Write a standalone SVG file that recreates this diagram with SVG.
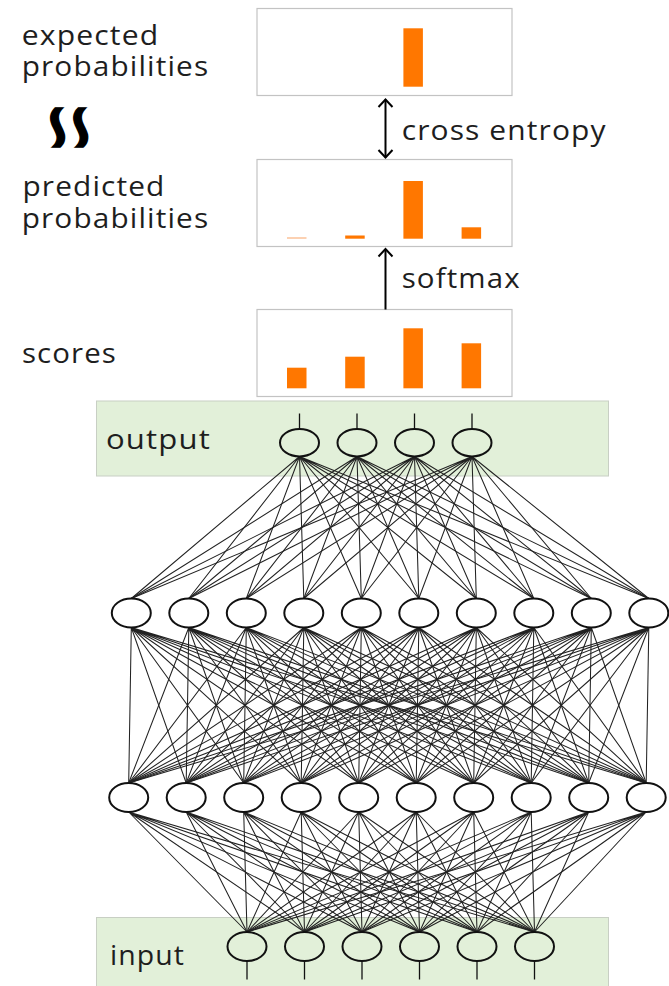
<svg xmlns="http://www.w3.org/2000/svg" width="669" height="986" viewBox="0 0 669 986">
<style>
.box{fill:#fff;stroke:#c3c3c3;stroke-width:1.2}
.bar{fill:#ff7700}
.lbl{font-family:'Open Sans','Noto Sans','DejaVu Sans',sans-serif;font-size:26.5px;letter-spacing:1px;fill:#1e1e1e}
.band{fill:#e2f0d9;stroke:#c8cfc4;stroke-width:1}
.node{fill:none;stroke:#111;stroke-width:2}
.tick{stroke:#111;stroke-width:1.3}
.conn{stroke:#222;stroke-width:1.05;fill:none}
.arr{stroke:#000;stroke-width:2;fill:none}
</style>
<rect width="669" height="986" fill="#fff"/>

<g id="expected">
<text class="lbl" x="21.7" y="45" textLength="137.6" lengthAdjust="spacingAndGlyphs">expected</text>
<text class="lbl" x="21.7" y="76" textLength="187.6" lengthAdjust="spacingAndGlyphs">probabilities</text>
<rect class="box" x="257" y="8.5" width="255" height="87"/>
<rect class="bar" x="403.4" y="28.3" width="19.5" height="58.4"/>
</g>

<g id="approx">
<text transform="matrix(0 1 1.4 0 69.5 127.5)" x="0" y="26" text-anchor="middle" font-family="'Liberation Sans',sans-serif" font-size="80" fill="#000" stroke="#000" stroke-width="1">≈</text>
</g>

<g id="predicted">
<text class="lbl" x="22.5" y="196" textLength="143" lengthAdjust="spacingAndGlyphs">predicted</text>
<text class="lbl" x="21.7" y="228.3" textLength="187.6" lengthAdjust="spacingAndGlyphs">probabilities</text>
<rect class="box" x="257" y="159.5" width="255" height="87"/>
<rect x="287" y="237.2" width="19.5" height="1.6" fill="#fcc6a0"/>
<rect class="bar" x="345.2" y="235.5" width="19.5" height="3.2"/>
<rect class="bar" x="403.4" y="181" width="19.5" height="57.7"/>
<rect class="bar" x="461.6" y="227.3" width="19.5" height="11.4"/>
</g>

<g id="scores">
<text class="lbl" x="22" y="363" textLength="95" lengthAdjust="spacingAndGlyphs">scores</text>
<rect class="box" x="257" y="309.5" width="255" height="87"/>
<rect class="bar" x="287" y="367.7" width="19.5" height="20.6"/>
<rect class="bar" x="345.2" y="356.7" width="19.5" height="31.6"/>
<rect class="bar" x="403.4" y="328.3" width="19.5" height="60"/>
<rect class="bar" x="461.6" y="343.3" width="19.5" height="45"/>
</g>

<g id="arrows">
<line class="arr" x1="385.5" y1="99.5" x2="385.5" y2="157.5"/>
<polyline class="arr" points="378.5,107 385.5,99.5 392.5,107"/>
<polyline class="arr" points="378.5,150 385.5,157.5 392.5,150"/>
<text class="lbl" x="401.7" y="139.5" textLength="205" lengthAdjust="spacingAndGlyphs">cross entropy</text>
<line class="arr" x1="385.5" y1="249" x2="385.5" y2="309.5"/>
<polyline class="arr" points="378.5,256.5 385.5,249 392.5,256.5"/>
<text class="lbl" x="401.7" y="287.5" textLength="119" lengthAdjust="spacingAndGlyphs">softmax</text>
</g>

<g id="output-layer">
<rect class="band" x="96.5" y="401" width="512" height="75"/>
<text class="lbl" x="106" y="449" textLength="105" lengthAdjust="spacingAndGlyphs">output</text>
</g>
<g id="input-layer">
<rect class="band" x="96.5" y="917.5" width="512" height="70"/>
<text class="lbl" x="110" y="965" textLength="75" lengthAdjust="spacingAndGlyphs">input</text>
</g>

<g id="connectors" class="conn">
<path d="M299.5 456.5L131.3 598.5M299.5 456.5L188.8 598.5M299.5 456.5L246.3 598.5M299.5 456.5L303.8 598.5M299.5 456.5L361.3 598.5M299.5 456.5L418.8 598.5M299.5 456.5L476.3 598.5M299.5 456.5L533.8 598.5M299.5 456.5L591.3 598.5M299.5 456.5L648.8 598.5"/>
<path d="M357 456.5L131.3 598.5M357 456.5L188.8 598.5M357 456.5L246.3 598.5M357 456.5L303.8 598.5M357 456.5L361.3 598.5M357 456.5L418.8 598.5M357 456.5L476.3 598.5M357 456.5L533.8 598.5M357 456.5L591.3 598.5M357 456.5L648.8 598.5"/>
<path d="M414.5 456.5L131.3 598.5M414.5 456.5L188.8 598.5M414.5 456.5L246.3 598.5M414.5 456.5L303.8 598.5M414.5 456.5L361.3 598.5M414.5 456.5L418.8 598.5M414.5 456.5L476.3 598.5M414.5 456.5L533.8 598.5M414.5 456.5L591.3 598.5M414.5 456.5L648.8 598.5"/>
<path d="M472 456.5L131.3 598.5M472 456.5L188.8 598.5M472 456.5L246.3 598.5M472 456.5L303.8 598.5M472 456.5L361.3 598.5M472 456.5L418.8 598.5M472 456.5L476.3 598.5M472 456.5L533.8 598.5M472 456.5L591.3 598.5M472 456.5L648.8 598.5"/>

<path d="M131.3 627.5L128.7 783M131.3 627.5L186.2 783M131.3 627.5L243.7 783M131.3 627.5L301.2 783M131.3 627.5L358.7 783M131.3 627.5L416.2 783M131.3 627.5L473.7 783M131.3 627.5L531.2 783M131.3 627.5L588.7 783M131.3 627.5L646.2 783"/>
<path d="M188.8 627.5L128.7 783M188.8 627.5L186.2 783M188.8 627.5L243.7 783M188.8 627.5L301.2 783M188.8 627.5L358.7 783M188.8 627.5L416.2 783M188.8 627.5L473.7 783M188.8 627.5L531.2 783M188.8 627.5L588.7 783M188.8 627.5L646.2 783"/>
<path d="M246.3 627.5L128.7 783M246.3 627.5L186.2 783M246.3 627.5L243.7 783M246.3 627.5L301.2 783M246.3 627.5L358.7 783M246.3 627.5L416.2 783M246.3 627.5L473.7 783M246.3 627.5L531.2 783M246.3 627.5L588.7 783M246.3 627.5L646.2 783"/>
<path d="M303.8 627.5L128.7 783M303.8 627.5L186.2 783M303.8 627.5L243.7 783M303.8 627.5L301.2 783M303.8 627.5L358.7 783M303.8 627.5L416.2 783M303.8 627.5L473.7 783M303.8 627.5L531.2 783M303.8 627.5L588.7 783M303.8 627.5L646.2 783"/>
<path d="M361.3 627.5L128.7 783M361.3 627.5L186.2 783M361.3 627.5L243.7 783M361.3 627.5L301.2 783M361.3 627.5L358.7 783M361.3 627.5L416.2 783M361.3 627.5L473.7 783M361.3 627.5L531.2 783M361.3 627.5L588.7 783M361.3 627.5L646.2 783"/>
<path d="M418.8 627.5L128.7 783M418.8 627.5L186.2 783M418.8 627.5L243.7 783M418.8 627.5L301.2 783M418.8 627.5L358.7 783M418.8 627.5L416.2 783M418.8 627.5L473.7 783M418.8 627.5L531.2 783M418.8 627.5L588.7 783M418.8 627.5L646.2 783"/>
<path d="M476.3 627.5L128.7 783M476.3 627.5L186.2 783M476.3 627.5L243.7 783M476.3 627.5L301.2 783M476.3 627.5L358.7 783M476.3 627.5L416.2 783M476.3 627.5L473.7 783M476.3 627.5L531.2 783M476.3 627.5L588.7 783M476.3 627.5L646.2 783"/>
<path d="M533.8 627.5L128.7 783M533.8 627.5L186.2 783M533.8 627.5L243.7 783M533.8 627.5L301.2 783M533.8 627.5L358.7 783M533.8 627.5L416.2 783M533.8 627.5L473.7 783M533.8 627.5L531.2 783M533.8 627.5L588.7 783M533.8 627.5L646.2 783"/>
<path d="M591.3 627.5L128.7 783M591.3 627.5L186.2 783M591.3 627.5L243.7 783M591.3 627.5L301.2 783M591.3 627.5L358.7 783M591.3 627.5L416.2 783M591.3 627.5L473.7 783M591.3 627.5L531.2 783M591.3 627.5L588.7 783M591.3 627.5L646.2 783"/>
<path d="M648.8 627.5L128.7 783M648.8 627.5L186.2 783M648.8 627.5L243.7 783M648.8 627.5L301.2 783M648.8 627.5L358.7 783M648.8 627.5L416.2 783M648.8 627.5L473.7 783M648.8 627.5L531.2 783M648.8 627.5L588.7 783M648.8 627.5L646.2 783"/>

<path d="M128.7 812L247 932M128.7 812L304.5 932M128.7 812L362 932M128.7 812L419.5 932M128.7 812L477 932M128.7 812L534.5 932"/>
<path d="M186.2 812L247 932M186.2 812L304.5 932M186.2 812L362 932M186.2 812L419.5 932M186.2 812L477 932M186.2 812L534.5 932"/>
<path d="M243.7 812L247 932M243.7 812L304.5 932M243.7 812L362 932M243.7 812L419.5 932M243.7 812L477 932M243.7 812L534.5 932"/>
<path d="M301.2 812L247 932M301.2 812L304.5 932M301.2 812L362 932M301.2 812L419.5 932M301.2 812L477 932M301.2 812L534.5 932"/>
<path d="M358.7 812L247 932M358.7 812L304.5 932M358.7 812L362 932M358.7 812L419.5 932M358.7 812L477 932M358.7 812L534.5 932"/>
<path d="M416.2 812L247 932M416.2 812L304.5 932M416.2 812L362 932M416.2 812L419.5 932M416.2 812L477 932M416.2 812L534.5 932"/>
<path d="M473.7 812L247 932M473.7 812L304.5 932M473.7 812L362 932M473.7 812L419.5 932M473.7 812L477 932M473.7 812L534.5 932"/>
<path d="M531.2 812L247 932M531.2 812L304.5 932M531.2 812L362 932M531.2 812L419.5 932M531.2 812L477 932M531.2 812L534.5 932"/>
<path d="M588.7 812L247 932M588.7 812L304.5 932M588.7 812L362 932M588.7 812L419.5 932M588.7 812L477 932M588.7 812L534.5 932"/>
<path d="M646.2 812L247 932M646.2 812L304.5 932M646.2 812L362 932M646.2 812L419.5 932M646.2 812L477 932M646.2 812L534.5 932"/>
</g>

<g id="out0"><line class="tick" x1="299.5" y1="413.5" x2="299.5" y2="429"/><ellipse class="node" cx="299.5" cy="442.7" rx="19.5" ry="13.7"/></g>
<g id="out1"><line class="tick" x1="357" y1="413.5" x2="357" y2="429"/><ellipse class="node" cx="357" cy="442.7" rx="19.5" ry="13.7"/></g>
<g id="out2"><line class="tick" x1="414.5" y1="413.5" x2="414.5" y2="429"/><ellipse class="node" cx="414.5" cy="442.7" rx="19.5" ry="13.7"/></g>
<g id="out3"><line class="tick" x1="472" y1="413.5" x2="472" y2="429"/><ellipse class="node" cx="472" cy="442.7" rx="19.5" ry="13.7"/></g>

<g id="h1-0"><ellipse class="node" cx="131.3" cy="613" rx="19.5" ry="14.5"/></g>
<g id="h1-1"><ellipse class="node" cx="188.8" cy="613" rx="19.5" ry="14.5"/></g>
<g id="h1-2"><ellipse class="node" cx="246.3" cy="613" rx="19.5" ry="14.5"/></g>
<g id="h1-3"><ellipse class="node" cx="303.8" cy="613" rx="19.5" ry="14.5"/></g>
<g id="h1-4"><ellipse class="node" cx="361.3" cy="613" rx="19.5" ry="14.5"/></g>
<g id="h1-5"><ellipse class="node" cx="418.8" cy="613" rx="19.5" ry="14.5"/></g>
<g id="h1-6"><ellipse class="node" cx="476.3" cy="613" rx="19.5" ry="14.5"/></g>
<g id="h1-7"><ellipse class="node" cx="533.8" cy="613" rx="19.5" ry="14.5"/></g>
<g id="h1-8"><ellipse class="node" cx="591.3" cy="613" rx="19.5" ry="14.5"/></g>
<g id="h1-9"><ellipse class="node" cx="648.8" cy="613" rx="19.5" ry="14.5"/></g>

<g id="h2-0"><ellipse class="node" cx="128.7" cy="797.5" rx="19.5" ry="14.5"/></g>
<g id="h2-1"><ellipse class="node" cx="186.2" cy="797.5" rx="19.5" ry="14.5"/></g>
<g id="h2-2"><ellipse class="node" cx="243.7" cy="797.5" rx="19.5" ry="14.5"/></g>
<g id="h2-3"><ellipse class="node" cx="301.2" cy="797.5" rx="19.5" ry="14.5"/></g>
<g id="h2-4"><ellipse class="node" cx="358.7" cy="797.5" rx="19.5" ry="14.5"/></g>
<g id="h2-5"><ellipse class="node" cx="416.2" cy="797.5" rx="19.5" ry="14.5"/></g>
<g id="h2-6"><ellipse class="node" cx="473.7" cy="797.5" rx="19.5" ry="14.5"/></g>
<g id="h2-7"><ellipse class="node" cx="531.2" cy="797.5" rx="19.5" ry="14.5"/></g>
<g id="h2-8"><ellipse class="node" cx="588.7" cy="797.5" rx="19.5" ry="14.5"/></g>
<g id="h2-9"><ellipse class="node" cx="646.2" cy="797.5" rx="19.5" ry="14.5"/></g>

<g id="in0"><ellipse class="node" cx="247" cy="946.5" rx="19.5" ry="14.5"/><line class="tick" x1="247" y1="961" x2="247" y2="979.5"/></g>
<g id="in1"><ellipse class="node" cx="304.5" cy="946.5" rx="19.5" ry="14.5"/><line class="tick" x1="304.5" y1="961" x2="304.5" y2="979.5"/></g>
<g id="in2"><ellipse class="node" cx="362" cy="946.5" rx="19.5" ry="14.5"/><line class="tick" x1="362" y1="961" x2="362" y2="979.5"/></g>
<g id="in3"><ellipse class="node" cx="419.5" cy="946.5" rx="19.5" ry="14.5"/><line class="tick" x1="419.5" y1="961" x2="419.5" y2="979.5"/></g>
<g id="in4"><ellipse class="node" cx="477" cy="946.5" rx="19.5" ry="14.5"/><line class="tick" x1="477" y1="961" x2="477" y2="979.5"/></g>
<g id="in5"><ellipse class="node" cx="534.5" cy="946.5" rx="19.5" ry="14.5"/><line class="tick" x1="534.5" y1="961" x2="534.5" y2="979.5"/></g>
</svg>
